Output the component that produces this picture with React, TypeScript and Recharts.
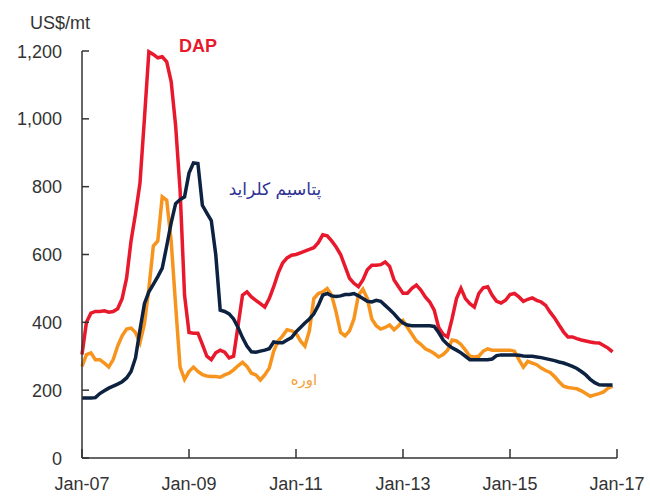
import React from "react";
import { LineChart, Line, XAxis, YAxis } from "recharts";

const tickMonths = [0, 24, 48, 72, 96, 120];
const tickLabels = ["Jan-07", "Jan-09", "Jan-11", "Jan-13", "Jan-15", "Jan-17"];
const yTicks = [0, 200, 400, 600, 800, 1000, 1200];

const dapValues = [
  305, 400, 427, 432, 432, 434, 430, 432, 440, 470,
  530, 640, 720, 810, 1000, 1198, 1190, 1180, 1183, 1168,
  1110, 980, 790, 480, 370, 368, 368, 335, 300, 290,
  310, 318, 312, 295, 300, 390, 480, 490, 475, 465,
  455, 445, 470, 505, 545, 575, 590, 598, 600, 605,
  610, 615, 620, 635, 658, 655, 640, 622, 600, 565,
  530, 515, 505, 525, 555, 568, 568, 570, 578, 565,
  525, 505, 486, 486, 500, 510, 495, 475, 460, 436,
  385, 365, 357, 410, 470, 500, 470, 455, 445, 485,
  502, 505, 480, 462, 457, 465, 482, 485, 475, 462,
  468, 472, 465, 460, 450, 430, 413, 392, 372, 357,
  357, 352, 348, 345, 342, 340, 339, 332, 324, 313,
];

const ureaValues = [
  270, 305, 310, 290, 290, 280, 268, 290, 330, 360,
  380, 383, 370, 340, 395, 500, 625, 640, 770, 760,
  640, 450, 268, 232, 255, 268, 255, 246, 242, 240,
  240, 238, 245, 250, 260, 272, 282, 270, 250, 245,
  230, 245, 265, 315, 345, 360, 378, 375, 368, 345,
  330, 375, 470, 485, 490, 500, 480, 430, 370, 360,
  375, 410, 480, 498, 470, 410, 390, 380, 385, 392,
  378, 390, 405, 385, 365, 345, 335, 322, 316, 308,
  298, 305, 318, 348, 345, 335, 318, 300, 298, 300,
  315, 322, 318, 318, 318, 318, 318, 315, 290, 268,
  285, 280, 275, 265, 258, 252, 240, 225, 212, 208,
  206, 204, 198, 190, 182, 186, 190, 195, 206, 212,
];

const potashValues = [
  177, 177, 177, 178, 190, 198, 206, 212, 218, 225,
  236, 255, 295, 377, 455, 490, 512, 535, 560, 625,
  693, 750, 762, 770, 840, 870, 868, 745, 722, 700,
  600, 436, 432, 425, 410, 385, 355, 330, 313, 312,
  315, 318, 322, 342, 340, 340, 348, 355, 372, 385,
  398, 410, 425, 450, 480, 485, 478, 476, 478, 482,
  482, 485, 478, 470, 462, 460, 465, 462, 450, 438,
  425, 410, 398, 392, 390, 390, 390, 390, 390, 388,
  370, 348, 335, 325, 318, 310, 300, 290, 290, 290,
  290, 290, 292, 302, 304, 304, 304, 304, 303, 301,
  300, 300, 298, 296, 293, 290, 287, 283, 280, 275,
  270, 264, 255, 245, 232, 222, 216, 215, 215, 215,
];

const data = dapValues.map((v, i) => ({
  m: i,
  dap: v,
  urea: ureaValues[i],
  potash: potashValues[i],
}));

const TEXT = "#333";
const FONT = "'Liberation Sans', Arial, sans-serif";

const YTick = (props: any) => {
  const { x, y, payload } = props;
  const label = Number(payload.value).toLocaleString("en-US");
  return (
    <g>
      <line x1={x} x2={x + 7} y1={y} y2={y} stroke="#333" strokeWidth={1.5} />
      <text x={x - 20} y={y} dy={6.5} textAnchor="end" fontSize={18} fontFamily={FONT} fill={TEXT}>
        {label}
      </text>
    </g>
  );
};

const XTick = (props: any) => {
  const { x, y, payload } = props;
  const idx = tickMonths.indexOf(payload.value);
  return (
    <g>
      <line x1={x} x2={x} y1={y} y2={y - 9} stroke="#333" strokeWidth={1.5} />
      <text x={x} y={y + 32} textAnchor="middle" fontSize={18} fontFamily={FONT} fill={TEXT}>
        {idx >= 0 ? tickLabels[idx] : ""}
      </text>
    </g>
  );
};

export default function App() {
  return (
    <div style={{ position: "absolute", left: 0, top: 0, width: 650, height: 498, background: "#fff" }}>
      <LineChart
        width={650}
        height={498}
        data={data}
        margin={{ top: 51, right: 33, left: 0, bottom: 0 }}
      >
        <XAxis
          dataKey="m"
          type="number"
          domain={[0, 120]}
          ticks={tickMonths}
          interval={0}
          height={40}
          tickSize={0}
          tickMargin={0}
          tickLine={false}
          axisLine={{ stroke: "#333", strokeWidth: 1.5 }}
          tick={<XTick />}
        />
        <YAxis
          type="number"
          domain={[0, 1200]}
          ticks={yTicks}
          interval={0}
          width={82}
          tickSize={0}
          tickMargin={0}
          tickLine={false}
          axisLine={{ stroke: "#333", strokeWidth: 1.5 }}
          tick={<YTick />}
        />
        <Line dataKey="urea" stroke="#f7941d" strokeWidth={3.5} dot={false} isAnimationActive={false} type="linear" />
        <Line dataKey="dap" stroke="#e8192c" strokeWidth={3.5} dot={false} isAnimationActive={false} type="linear" />
        <Line dataKey="potash" stroke="#0d2240" strokeWidth={3.5} dot={false} isAnimationActive={false} type="linear" />
      </LineChart>
      <svg
        width={650}
        height={498}
        style={{ position: "absolute", left: 0, top: 0, pointerEvents: "none" }}
      >
        <text x={30} y={29} fontSize={18} fontFamily={FONT} fill={TEXT}>US$/mt</text>
        <text x={179} y={52} fontSize={18} fontWeight="bold" fontFamily={FONT} fill="#e8192c">DAP</text>
        <text x={275} y={195} textAnchor="middle" fontSize={17} fontFamily="'DejaVu Sans', 'Noto Sans', sans-serif" fill="#2e3192" direction="rtl">
          پتاسیم کلراید
        </text>
        <text x={304} y={385} textAnchor="middle" fontSize={15} fontFamily="'DejaVu Sans', 'Noto Sans', sans-serif" fill="#f7a13a" direction="rtl">
          اوره
        </text>
      </svg>
    </div>
  );
}
